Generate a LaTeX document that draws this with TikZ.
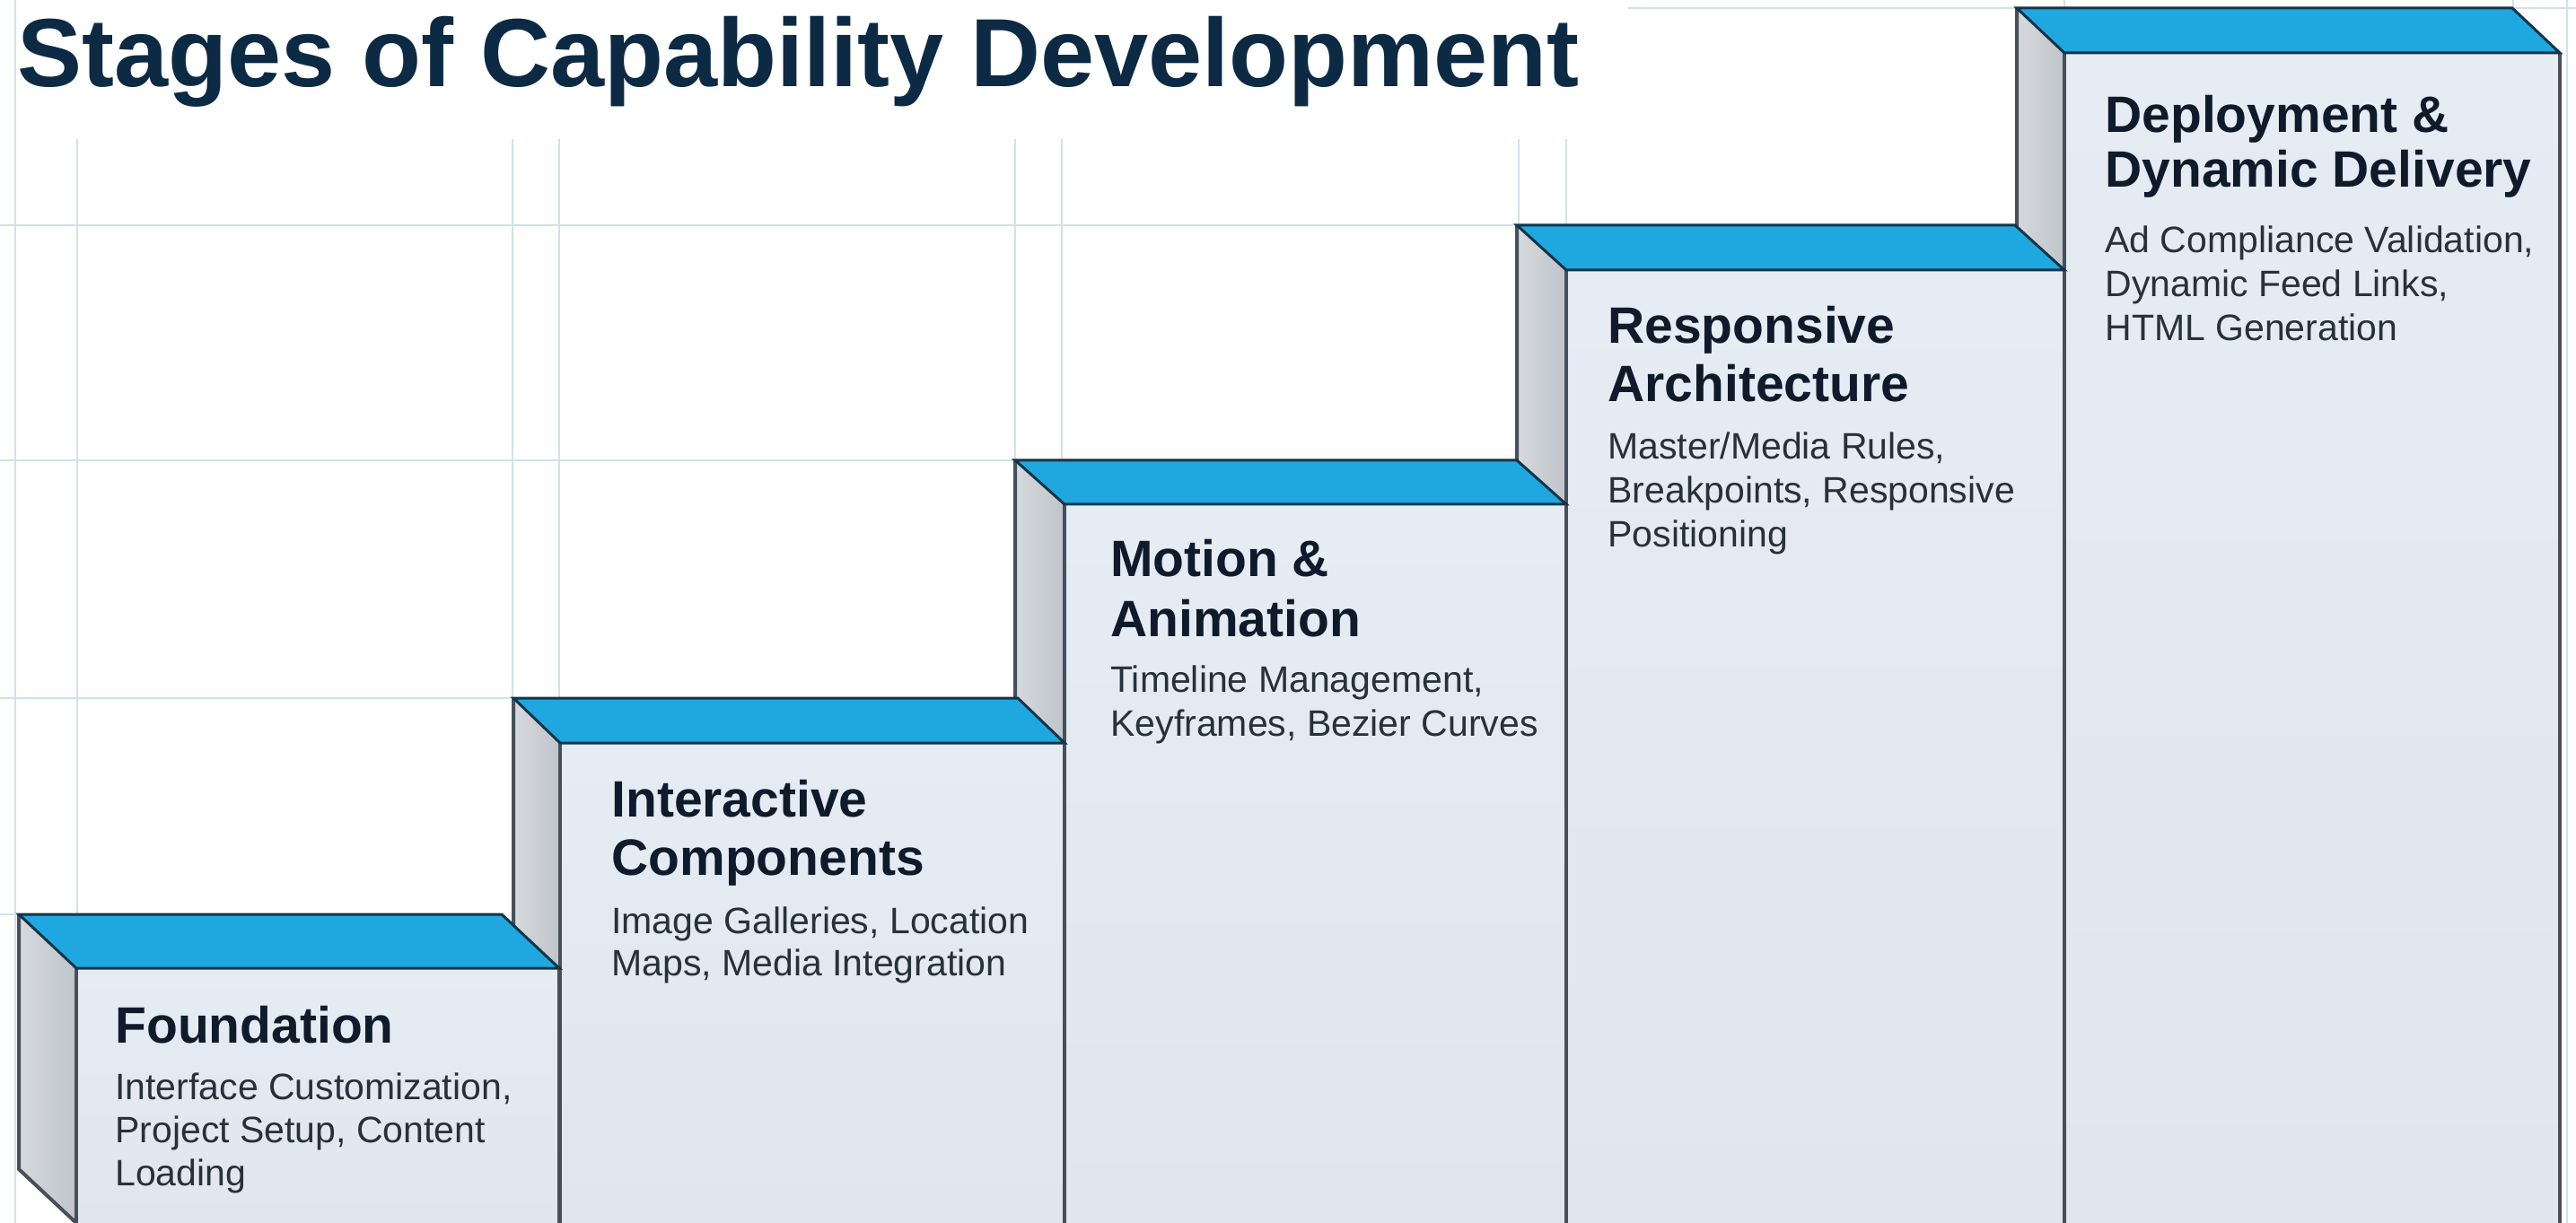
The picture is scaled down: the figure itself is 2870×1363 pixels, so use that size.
\documentclass[tikz,border=0pt]{standalone}
\usepackage{fontspec}
\setmainfont{Liberation Sans}
\usetikzlibrary{calc}
\definecolor{gridc}{HTML}{CFE2EA}
\definecolor{topc}{HTML}{1FA8DF}
\definecolor{edgec}{HTML}{123449}
\definecolor{frontT}{HTML}{E6ECF4}
\definecolor{frontB}{HTML}{DFE6EF}
\definecolor{sideL}{HTML}{D6D9DD}
\definecolor{sideR}{HTML}{BFC4CA}
\definecolor{titlec}{HTML}{0D2A45}
\definecolor{headc}{HTML}{0F1B2A}
\definecolor{bodyc}{HTML}{27313B}
\definecolor{frameedge}{HTML}{45505B}
\newcommand\vlines[2]{\vtop{\baselineskip=#1\relax\lineskip=0pt\lineskiplimit=-100pt\halign{##\hfil\cr#2\crcr}}}
\newcommand\headfont{\fontsize{28.5}{32.5}\selectfont\bfseries}
\newcommand\bodyfont{\fontsize{20.5}{24}\selectfont}
% #1 bx, #2 by, #3 fx, #4 fy, #5 fr
\newcommand\stepblock[5]{%
  \fill[left color=sideL,right color=sideR] (#1,#2) -- (#3,#4) -- (#3,1363) -- (#1,{1363-#4+#2}) -- cycle;
  \fill[top color=frontT,bottom color=frontB] (#3,#4) rectangle (#5,1363);
  \draw[sideedge] (#1,#2) -- (#1,{1363-#4+#2}) -- (#3,1363);
  \draw[frontedge] (#3,#4) -- (#3,1363);
  \draw[frontedge] (#5,#4) -- (#5,1363);
  \filldraw[topface] (#1,#2) -- ({#5-#3+#1},#2) -- (#5,#4) -- (#3,#4) -- cycle;
}
\begin{document}
\begin{tikzpicture}[x=0.5pt,y=-0.5pt,
  gridline/.style={draw=gridc,line width=1pt},
  topface/.style={fill=topc,draw=edgec,line width=1.5pt,line join=miter},
  frontedge/.style={draw=frameedge,line width=2pt},
  sideedge/.style={draw=frameedge,line width=2pt},
  headtext/.style={anchor=base west,inner sep=0pt,font=\headfont,text=headc},
  bodytext/.style={anchor=base west,inner sep=0pt,font=\bodyfont,text=bodyc},
  titletext/.style={anchor=base west,inner sep=0pt,font=\fontsize{54}{60}\selectfont\bfseries,text=titlec}]
\useasboundingbox (0,0) rectangle (2870,1363);
\fill[white] (0,0) rectangle (2870,1363);
% grid
\draw[gridline] (17,0) -- (17,1363);
\draw[gridline] (86,155) -- (86,1019);
\draw[gridline] (571,155) -- (571,778);
\draw[gridline] (623,155) -- (623,778);
\draw[gridline] (1131,155) -- (1131,513);
\draw[gridline] (1183,155) -- (1183,513);
\draw[gridline] (1692,155) -- (1692,251);
\draw[gridline] (1745,155) -- (1745,251);
\draw[gridline] (0,251) -- (1690,251);
\draw[gridline] (0,513) -- (1131,513);
\draw[gridline] (0,778) -- (572,778);
\draw[gridline] (0,1019) -- (21,1019);
\draw[gridline] (1814,9) -- (2870,9);
\draw[gridline] (2300,0) -- (2300,9);
\draw[gridline] (2800,0) -- (2800,9);
\draw[gridline] (2860,0) -- (2860,1363);
% steps, back to front
\stepblock{2247}{9}{2300}{59}{2852}
\stepblock{1690}{251}{1745}{301}{2300}
\stepblock{1131}{513}{1186}{562}{1745}
\stepblock{572}{778}{624}{828}{1186}
\stepblock{21}{1019}{85}{1079}{623}
% title
\node[titletext] (title) at (19,97) {Stages of Capability Development};
% texts
\node[headtext] (h1) at (128,1162) {\vlines{32.5pt}{Foundation}};
\node[bodytext] (b1) at (128,1225) {\vlines{24pt}{Interface Customization,\cr Project Setup, Content\cr Loading}};
\node[headtext] (h2) at (681,910) {\vlines{32.5pt}{Interactive\cr Components}};
\node[bodytext] (b2) at (681,1040) {\vlines{23.5pt}{Image Galleries, Location\cr Maps, Media Integration}};
\node[headtext] (h3) at (1237,643) {\vlines{33pt}{Motion \&\cr Animation}};
\node[bodytext] (b3) at (1237,771) {\vlines{24.5pt}{Timeline Management,\cr Keyframes, Bezier Curves}};
\node[headtext] (h4) at (1791,383) {\vlines{32.5pt}{Responsive\cr Architecture}};
\node[bodytext] (b4) at (1791,512) {\vlines{24.3pt}{Master/Media Rules,\cr Breakpoints, Responsive\cr Positioning}};
\node[headtext] (h5) at (2345,148) {\vlines{30.5pt}{Deployment \&\cr Dynamic Delivery}};
\node[bodytext] (b5) at (2345,282) {\vlines{24.5pt}{Ad Compliance Validation,\cr Dynamic Feed Links,\cr HTML Generation}};
\end{tikzpicture}
\end{document}
